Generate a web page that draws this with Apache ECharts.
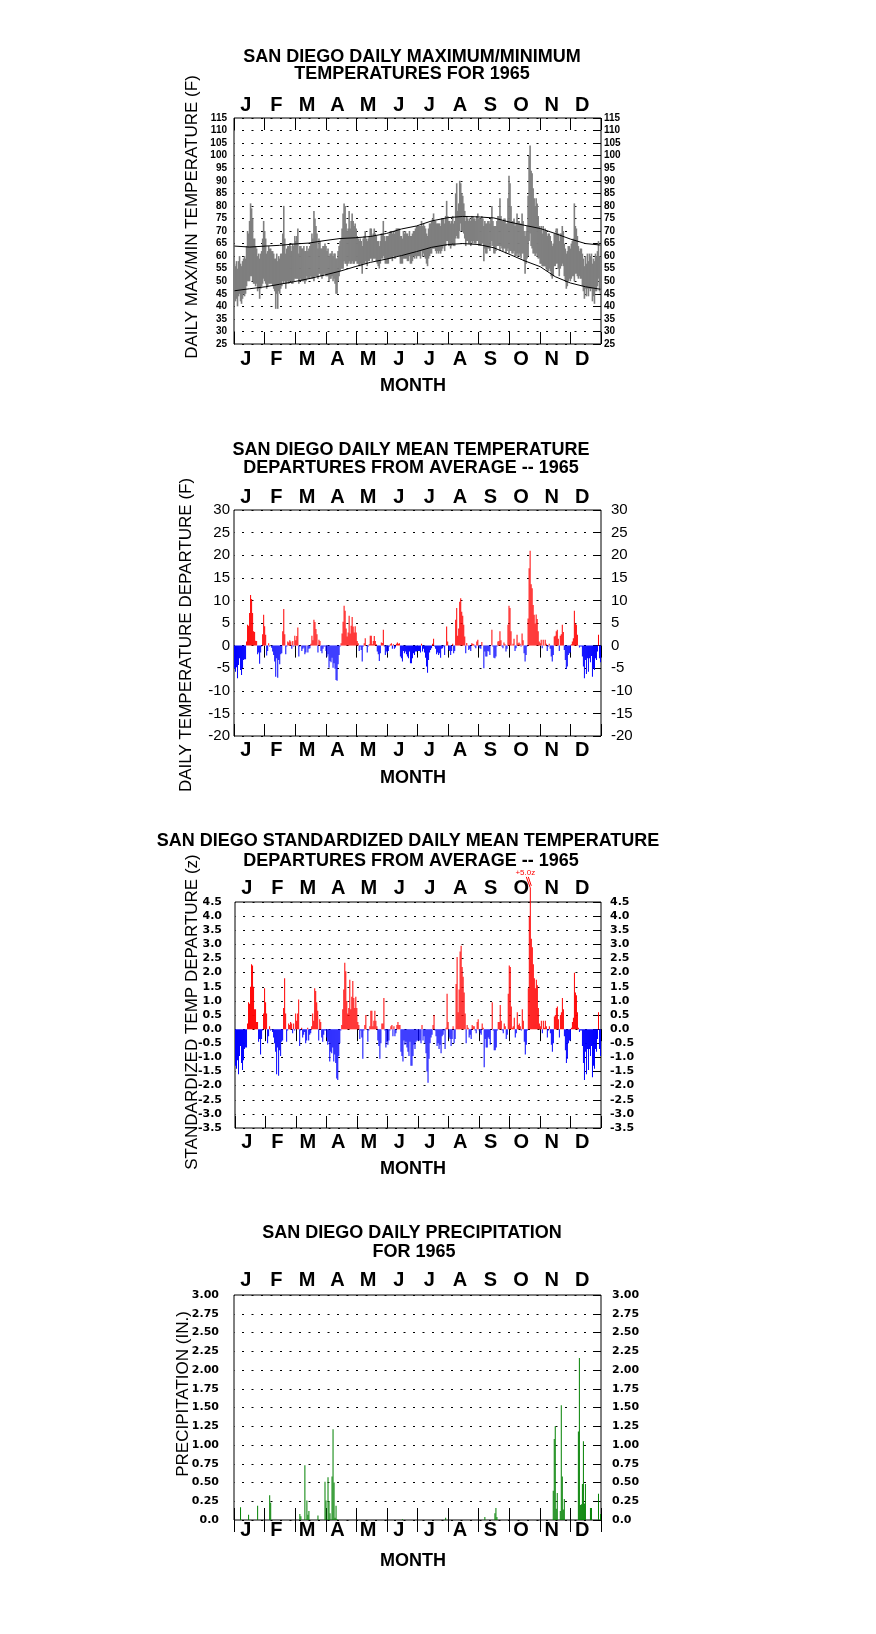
<!DOCTYPE html>
<html><head><meta charset="utf-8">
<script src="https://cdn.jsdelivr.net/npm/echarts@6/dist/echarts.min.js"></script>
<style>html,body{margin:0;padding:0;background:#fff}#c{width:876px;height:1634px}</style>
</head><body><div id="c"></div>
<script>
// ---------------- DATA ----------------
const months = ['J','F','M','A','M','J','J','A','S','O','N','D'];

// Daily maximum temperatures 1965 (F), Jan..Dec
const maxTemp = [
57,56,58,55,58,60,57,56,58,59,60,59,64,70,69,74,81,79,75,67,67,64,63,60,61,59,61,62,67,74,70,
67,61,62,64,63,63,62,62,61,59,59,61,58,60,59,61,61,69,80,67,61,63,64,64,65,64,62,65,
64,68,66,68,71,61,64,64,63,63,64,62,62,64,62,63,64,65,69,67,78,75,72,69,63,67,66,63,63,64,64,
65,64,62,63,60,61,61,62,60,61,61,59,59,62,64,66,67,71,77,81,80,73,70,71,78,71,74,77,74,72,
73,71,68,67,66,67,66,64,67,68,70,67,66,67,68,71,71,68,69,71,69,68,66,66,64,66,69,69,74,68,66,
68,68,68,69,70,70,69,70,69,70,71,71,71,71,68,68,67,70,69,70,69,69,68,70,68,68,69,70,70,71,
72,72,72,72,72,74,72,73,72,71,69,68,71,73,73,74,75,77,74,74,73,73,73,73,72,75,75,75,73,76,82,
76,74,74,73,74,76,73,74,85,89,78,81,90,89,85,84,81,78,74,76,75,74,75,74,76,76,75,75,74,76,77,
75,75,75,76,75,72,74,73,73,74,74,73,75,80,74,72,72,72,74,76,76,83,76,74,74,75,75,73,73,83,
92,89,80,74,74,75,72,73,77,74,74,73,73,77,74,70,68,70,72,84,100,104,94,93,87,83,80,83,81,76,72,
71,72,69,72,70,71,70,68,69,69,68,66,64,65,69,69,71,71,69,66,69,69,72,70,65,63,61,62,64,64,
63,65,66,67,81,72,71,68,64,62,63,63,61,59,56,60,57,61,58,61,60,61,57,59,58,61,60,62,66,60,59];

// Daily minimum temperatures 1965 (F)
const minTemp = [
43,42,43,40,44,45,42,41,43,45,44,45,48,50,50,50,52,52,50,49,49,48,49,46,47,43,47,48,49,51,50,
49,47,48,49,49,49,49,48,47,46,39,45,39,46,45,47,48,50,49,50,47,49,50,49,50,50,49,49,
50,51,51,51,51,49,50,51,50,50,50,49,50,52,51,51,51,52,51,51,50,52,52,52,51,53,53,52,51,52,53,
53,52,52,52,50,51,51,52,50,51,49,45,45,50,52,54,55,55,55,58,57,57,56,57,58,57,57,58,57,57,
58,58,57,57,56,57,56,53,57,57,58,57,56,58,58,59,59,58,59,59,59,58,57,56,55,57,59,59,60,59,57,
57,57,57,59,59,59,58,60,59,59,60,60,60,60,57,57,57,59,59,59,59,58,58,60,57,57,58,60,59,60,
59,60,60,60,59,62,60,61,60,59,57,56,59,60,61,61,63,63,63,62,61,62,61,62,61,62,63,64,62,64,66,
66,64,64,63,64,65,64,64,67,68,67,67,70,73,70,70,69,67,64,66,66,65,65,64,66,65,66,65,65,66,66,
64,64,64,65,65,58,63,61,61,63,63,62,64,66,64,61,61,62,64,64,64,62,64,63,62,63,63,61,62,63,
61,62,62,61,61,62,60,60,61,60,61,60,59,61,61,58,53,57,59,60,66,69,64,63,61,61,60,61,60,59,59,
57,57,56,56,56,56,55,54,54,55,54,52,51,52,56,56,57,57,55,52,55,56,57,56,52,50,47,48,50,51,
50,51,52,52,50,53,53,52,51,52,51,51,48,46,43,47,44,47,44,47,46,47,42,44,41,46,46,48,51,46,45];

// Normal (long-term average) max / min curves, read at these days of year
const normDays = [0,15,31,45,59,74,90,105,120,135,151,166,181,196,212,227,243,258,273,288,304,319,334,349,364];
const normMax  = [64.0,63.6,64.0,64.3,64.8,65.2,66.2,67.0,67.3,67.8,69.0,70.8,72.0,74.0,75.3,75.8,75.6,75.2,73.6,72.3,71.0,69.0,66.8,65.0,64.4];
const normMin  = [46.2,47.0,47.8,48.8,49.8,51.0,52.5,54.0,55.8,57.5,58.8,60.2,61.8,63.5,64.6,65.0,64.6,63.3,60.8,58.2,55.8,51.8,49.3,47.8,46.8];

// Daily mean temperature departure from average (F)
const departure = [
-5.0,-5.8,-4.8,-7.2,-4.3,-2.8,-5.4,-6.5,-5.0,-3.2,-3.0,-3.0,0.9,4.6,4.4,7.2,11.2,10.3,7.2,3.2,3.0,1.1,1.0,-1.9,-1.5,-4.0,-1.5,-0.2,2.5,6.8,4.3,
2.4,-2.2,-1.2,0.5,-0.2,0.0,-0.5,-1.3,-2.1,-3.5,-6.9,-2.8,-7.1,-3.2,-4.1,-1.9,-1.7,3.2,8.1,2.5,-1.9,-0.2,0.9,0.7,1.2,0.9,-0.7,1.0,
-0.2,2.2,1.2,2.1,4.0,-2.4,-0.2,0.1,-1.2,-0.7,-0.4,-1.9,-1.5,0.1,-1.5,-0.7,-0.6,0.4,2.2,1.2,5.7,5.2,3.7,2.5,-1.5,1.3,1.0,-1.2,-1.7,-0.7,-0.2,
-0.2,-1.2,-2.4,-1.9,-4.9,-3.4,-3.7,-2.7,-4.9,-3.9,-5.1,-7.6,-7.8,-4.1,-2.1,-0.2,0.5,2.7,5.3,8.8,7.7,3.8,2.0,2.9,6.6,2.7,4.4,6.3,4.2,2.9,
4.3,2.9,1.0,0.5,-1.2,-0.2,-1.0,-3.5,-0.2,0.5,1.6,0.0,-1.5,-0.2,0.3,2.2,2.2,0.3,1.0,2.1,1.0,0.3,-1.3,-1.9,-3.4,-1.7,0.7,0.6,3.5,-0.2,-2.1,
-1.3,-1.7,-1.2,-0.2,0.3,0.5,-0.7,0.3,-0.7,-0.4,0.4,0.7,0.4,0.5,-2.4,-2.8,-3.5,-1.2,-1.7,-1.3,-1.9,-2.4,-2.8,-1.3,-3.9,-3.9,-2.8,-1.7,-2.1,-1.3,
-1.3,-1.2,-1.2,-1.2,-1.5,0.4,-1.3,-0.7,-1.5,-2.7,-4.6,-6.0,-3.2,-1.5,-1.0,-0.6,0.4,1.5,-0.2,-0.7,-1.9,-1.5,-2.1,-1.7,-2.7,-0.7,-0.6,-0.2,-2.1,0.1,4.2,
0.9,-1.0,-1.2,-2.1,-1.2,0.4,-1.7,-1.2,5.7,8.3,2.2,3.8,9.7,10.5,7.5,6.6,4.6,2.0,-1.7,0.6,0.1,-1.0,-0.7,-1.2,0.5,0.4,0.3,-0.2,-0.6,0.9,1.3,
-0.2,-0.6,-0.7,0.8,0.1,-5.0,-1.3,-2.4,-2.4,-1.2,-1.3,-2.1,0.0,3.5,-0.2,-2.7,-2.8,-2.4,-0.2,0.9,1.0,3.2,1.2,-0.2,-0.6,0.7,0.3,-1.3,-0.7,4.6,
8.8,8.3,3.2,0.1,0.4,1.5,-1.2,-0.6,2.4,0.5,0.7,0.4,-0.2,2.7,1.2,-1.7,-3.5,-2.1,-0.2,6.0,17.1,21.0,13.6,12.7,9.0,6.8,4.9,6.9,5.9,3.2,0.9,
0.5,1.3,-0.6,1.3,0.1,1.3,0.4,-1.2,-0.2,0.4,-0.7,-2.4,-3.5,-2.1,2.0,2.2,3.2,3.5,1.5,-1.2,2.2,2.5,4.6,3.0,-1.0,-3.2,-5.2,-4.6,-2.1,-1.7,
-1.5,0.3,0.9,1.6,7.7,4.9,4.6,2.4,0.1,-0.4,-0.2,-0.2,-2.4,-4.6,-7.2,-3.2,-6.3,-2.8,-5.8,-2.8,-3.7,-2.3,-6.9,-5.0,-5.4,-2.8,-3.2,-1.3,2.4,-2.8,-3.7];

// Standardized daily mean temperature departure (z)
const zScore = [
-1.3,-1.4,-1.1,-1.6,-0.95,-0.6,-1.2,-1.45,-1.1,-0.7,-0.65,-0.65,0.2,0.95,0.9,1.5,2.3,2.25,1.5,0.7,0.7,0.25,0.25,-0.45,-0.35,-0.9,-0.35,-0.05,0.55,1.45,0.95,
0.55,-0.5,-0.25,0.1,-0.05,0.0,-0.1,-0.3,-0.5,-0.8,-1.6,-0.65,-1.65,-0.75,-0.95,-0.45,-0.4,0.75,1.8,0.55,-0.45,-0.05,0.2,0.15,0.25,0.2,-0.15,0.2,
-0.05,0.55,0.3,0.55,1.05,-0.6,-0.05,0.05,-0.3,-0.2,-0.1,-0.5,-0.4,0.05,-0.4,-0.2,-0.15,0.1,0.55,0.3,1.45,1.35,0.95,0.65,-0.4,0.35,0.25,-0.3,-0.45,-0.2,-0.05,
-0.05,-0.3,-0.55,-0.45,-1.15,-0.8,-0.85,-0.65,-1.15,-0.9,-1.2,-1.75,-1.8,-0.95,-0.5,-0.05,0.15,0.7,1.4,2.35,2.05,1.0,0.55,0.75,1.75,0.7,1.15,1.7,1.1,0.75,
1.15,0.75,0.25,0.15,-0.35,-0.05,-0.3,-1.05,-0.05,0.15,0.5,0.0,-0.45,-0.05,0.1,0.65,0.65,0.1,0.3,0.65,0.3,0.1,-0.4,-0.6,-1.05,-0.5,0.2,0.2,1.1,-0.05,-0.65,
-0.45,-0.55,-0.4,-0.05,0.1,0.15,-0.25,0.1,-0.25,-0.15,0.15,0.25,0.15,0.15,-0.8,-0.95,-1.15,-0.4,-0.55,-0.45,-0.65,-0.8,-0.95,-0.45,-1.3,-1.3,-0.95,-0.55,-0.7,-0.45,
-0.4,-0.4,-0.4,-0.4,-0.5,0.15,-0.4,-0.25,-0.5,-0.85,-1.5,-1.9,-1.05,-0.5,-0.3,-0.2,0.15,0.5,-0.05,-0.25,-0.6,-0.5,-0.7,-0.55,-0.85,-0.25,-0.2,-0.05,-0.7,0.05,1.25,
0.25,-0.3,-0.35,-0.6,-0.35,0.1,-0.5,-0.35,1.6,2.55,0.6,1.4,2.75,2.95,2.2,1.85,1.3,0.55,-0.5,0.15,0.05,-0.3,-0.2,-0.35,0.15,0.1,0.1,-0.05,-0.15,0.25,0.35,
-0.05,-0.15,-0.2,0.2,0.05,-1.35,-0.35,-0.65,-0.65,-0.3,-0.35,-0.55,0.0,0.95,-0.05,-0.75,-0.75,-0.65,-0.05,0.25,0.25,0.85,0.3,-0.05,-0.15,0.2,0.1,-0.35,-0.2,1.25,
2.25,2.2,0.8,0.05,0.1,0.4,-0.3,-0.15,0.6,0.15,0.2,0.1,-0.05,0.7,0.3,-0.45,-0.9,-0.55,-0.05,1.45,4.0,5.0,3.2,2.9,2.3,1.8,1.45,1.75,1.55,0.75,0.2,
0.1,0.3,-0.15,0.3,0.05,0.3,0.1,-0.3,-0.05,0.1,-0.15,-0.55,-0.8,-0.5,0.45,0.5,0.75,0.8,0.35,-0.3,0.5,0.6,1.1,0.7,-0.25,-0.75,-1.2,-1.05,-0.5,-0.4,
-0.4,0.05,0.25,0.4,2.0,1.3,1.2,0.6,0.05,-0.1,-0.05,-0.05,-0.6,-1.2,-1.8,-0.8,-1.6,-0.7,-1.45,-0.7,-0.95,-0.6,-1.7,-1.3,-1.4,-0.7,-0.8,-0.35,0.6,-0.7,-0.95];

// Daily precipitation (in.) — days of year (0 = Jan 1) with measurable rain
const precipDays   = [6,14,23,35,36,65,66,70,72,73,74,83,90,91,93,94,95,97,98,99,100,101,102,167,210,249,259,260,261,317,318,319,320,321,324,325,326,327,328,342,343,344,345,346,347,348,349,354,355,362,364];
const precipValues = [0.17,0.07,0.19,0.33,0.23,0.08,0.05,0.73,0.26,0.07,0.12,0.06,0.51,0.26,0.57,0.25,0.09,0.58,1.21,0.50,0.03,0.19,0.01,0.01,0.03,0.04,0.09,0.16,0.04,0.39,1.08,1.25,0.15,0.36,0.12,1.53,0.58,0.14,0.28,1.18,2.16,0.20,0.21,0.48,1.05,0.22,0.48,0.16,0.16,0.35,0.08];

// Axis ranges / tick steps
const tempRange   = {min:25, max:115, step:5};
const depRange    = {min:-20, max:30, step:5};
const zRange      = {min:-3.5, max:4.5, step:0.5};
const precipRange = {min:0, max:3, step:0.25};
const peakZLabel  = {day:294, value:5.0, text:'+5.0z'};

// ---------------- CHART ----------------
const chart = echarts.init(document.getElementById('c'), null, {renderer:'canvas'});
const days = Array.from({length:365}, (_, i) => String(i + 1));
const ARIAL = '"Liberation Sans", Arial, Helvetica, sans-serif';
const WIDE = '"DejaVu Sans", Verdana, sans-serif';

const grids = [
  {left:234, top:118, width:367, height:226},
  {left:234, top:510, width:367, height:226},
  {left:235, top:902, width:366, height:226},
  {left:234, top:1295, width:367, height:225}
];
const monthMargins = [[3,5],[3,4],[4,4],[5,0]];

const xAxes = [], yAxes = [];
grids.forEach((g, i) => {
  xAxes.push({type:'category', gridIndex:i, data:days, boundaryGap:true, show:false});
  [['top', monthMargins[i][0]], ['bottom', monthMargins[i][1]]].forEach(([pos, m]) => {
    xAxes.push({
      type:'category', gridIndex:i, position:pos, data:months, boundaryGap:true,
      axisLine:{show:false},
      axisTick:{show:true, inside:true, length:12, interval:0, lineStyle:{color:'#000', width:1}},
      axisLabel:{show:true, interval:0, margin:m, color:'#000', fontSize:20, fontWeight:'bold',
                 fontFamily:ARIAL, padding:[0,7,0,0]},
      splitLine:{show:false}
    });
  });
});

function yPair(i, r, fmt, lab, mL, mR) {
  const base = {type:'value', gridIndex:i, min:r.min, max:r.max, interval:r.step, axisLine:{show:false}};
  yAxes.push(Object.assign({}, base, {
    position:'left',
    axisTick:{show:false},
    axisLabel:Object.assign({color:'#000', margin:mL, formatter:fmt}, lab),
    splitLine:{show:true, lineStyle:{color:'#000', width:1, type:[2,7.5], dashOffset:-8}}
  }));
  yAxes.push(Object.assign({}, base, {
    position:'right',
    axisTick:{show:true, inside:true, length:8, lineStyle:{color:'#000', width:1}},
    axisLabel:Object.assign({color:'#000', margin:mR, formatter:fmt}, lab),
    splitLine:{show:false}
  }));
}
yPair(0, tempRange, v => String(v), {fontSize:10, fontWeight:'bold', fontFamily:ARIAL}, 7, 3);
yPair(1, depRange, v => String(v), {fontSize:15, fontFamily:ARIAL}, 4, 10);
yPair(2, zRange, v => v.toFixed(1), {fontSize:11, fontWeight:'bold', fontFamily:WIDE}, 13, 9);
yPair(3, precipRange, v => v === 0 ? '0.0' : v.toFixed(2), {fontSize:11, fontWeight:'bold', fontFamily:WIDE}, 15, 11);

function sparse(idx, vals) {
  const a = new Array(365).fill(null);
  idx.forEach((d, k) => { a[d] = vals[k]; });
  return a;
}
const rangeTop = maxTemp.map((v, i) => v - minTemp[i]);
const signColor = p => (p.value >= 0 ? '#ff0000' : '#0000ff');

const series = [
  {type:'bar', xAxisIndex:0, yAxisIndex:0, stack:'band', data:minTemp, barWidth:1.6,
   itemStyle:{color:'rgba(0,0,0,0)'}, silent:true},
  {type:'bar', xAxisIndex:0, yAxisIndex:0, stack:'band', data:rangeTop, barWidth:1.6,
   itemStyle:{color:'#7f7f7f'}, silent:true},
  {type:'line', xAxisIndex:0, yAxisIndex:0, data:sparse(normDays, normMax), connectNulls:true,
   showSymbol:false, symbol:'none', lineStyle:{color:'#000', width:1}, z:5, silent:true},
  {type:'line', xAxisIndex:0, yAxisIndex:0, data:sparse(normDays, normMin), connectNulls:true,
   showSymbol:false, symbol:'none', lineStyle:{color:'#000', width:1}, z:5, silent:true},
  {type:'bar', xAxisIndex:3, yAxisIndex:2, data:departure, barCategoryGap:'0%',
   itemStyle:{color:signColor}, silent:true},
  {type:'bar', xAxisIndex:6, yAxisIndex:4, data:zScore, barCategoryGap:'0%', clip:false,
   itemStyle:{color:signColor}, silent:true},
  {type:'bar', xAxisIndex:9, yAxisIndex:6, data:sparse(precipDays, precipValues), barWidth:1,
   itemStyle:{color:'#008000'}, silent:true}
];

function txt(x, y, text, font, rot, fill) {
  return {type:'text', x:x, y:y, rotation:rot || 0, silent:true, z:100,
    style:{text:text, font:font, fill:fill || '#000', align:'center', verticalAlign:'middle',
           textAlign:'center', textVerticalAlign:'middle'}};
}
const TF = 'bold 18px ' + ARIAL;
const MF = 'bold 18px ' + ARIAL;
const YF = '17px ' + ARIAL;
const R = Math.PI / 2;
const graphics = [
  txt(412, 57, 'SAN DIEGO DAILY MAXIMUM/MINIMUM', TF),
  txt(412, 74, 'TEMPERATURES FOR 1965', TF),
  txt(413, 386, 'MONTH', MF),
  txt(192, 217, 'DAILY MAX/MIN TEMPERATURE (F)', YF, R),

  txt(411, 450, 'SAN DIEGO DAILY MEAN TEMPERATURE', TF),
  txt(411, 468, 'DEPARTURES FROM AVERAGE -- 1965', TF),
  txt(413, 778, 'MONTH', MF),
  txt(186, 635, 'DAILY TEMPERATURE DEPARTURE (F)', YF, R),

  txt(408, 841, 'SAN DIEGO STANDARDIZED DAILY MEAN TEMPERATURE', TF),
  txt(411, 861, 'DEPARTURES FROM AVERAGE -- 1965', TF),
  txt(413, 1169, 'MONTH', MF),
  txt(192, 1012, 'STANDARDIZED TEMP DEPARTURE (z)', YF, R),

  txt(412, 1233, 'SAN DIEGO DAILY PRECIPITATION', TF),
  txt(414, 1252, 'FOR 1965', TF),
  txt(413, 1561, 'MONTH', MF),
  txt(183, 1394, 'PRECIPITATION (IN.)', YF, R)
];

chart.setOption({
  animation:false,
  backgroundColor:'#ffffff',
  grid:grids.map(g => Object.assign({show:true, borderColor:'#000', borderWidth:1, backgroundColor:'transparent', containLabel:false}, g)),
  xAxis:xAxes,
  yAxis:yAxes,
  series:series,
  graphic:{elements:graphics}
});

// "+5.0z" annotation above the clipped October peak (position from the axes)
const pk = chart.convertToPixel({xAxisIndex:6, yAxisIndex:4}, [peakZLabel.day, peakZLabel.value]);
graphics.push(
  txt(pk[0] - 5, pk[1] - 15.5, peakZLabel.text, '8px ' + ARIAL, 0, '#ff0000'),
  {type:'line', silent:true, z:100, shape:{x1:pk[0] - 4, y1:pk[1] - 11, x2:pk[0], y2:pk[1]}, style:{stroke:'#ff0000', lineWidth:1}},
  {type:'line', silent:true, z:100, shape:{x1:pk[0] - 2, y1:pk[1] - 11, x2:pk[0] + 1, y2:pk[1] - 2}, style:{stroke:'#ff0000', lineWidth:1}}
);
chart.setOption({graphic:{elements:graphics}}, {replaceMerge:['graphic']});
</script></body></html>
